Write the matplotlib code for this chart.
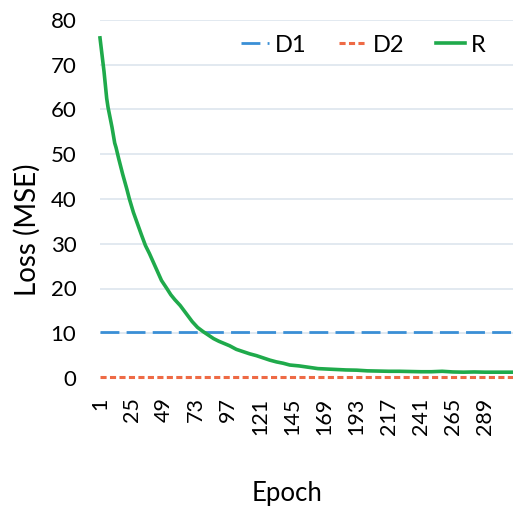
import matplotlib.pyplot as plt

r_epoch = [1, 2, 3, 4, 5, 6, 7, 8, 10, 12, 13, 15, 18, 21, 23, 26, 29, 32, 35, 38, 41, 44, 47,
           51, 54, 57, 61, 64, 67, 70, 74, 78, 82, 86, 90, 94, 98, 103, 108, 113, 118,
           123, 128, 133, 138, 143, 150, 157, 164, 171, 178, 185, 193, 201, 209, 217,
           225, 233, 241, 249, 257, 265, 273, 281, 289, 297, 305, 310]
r_loss = [76, 73.5, 71, 68.5, 65.5, 62.5, 60.5, 59, 56, 52.5, 51.5, 49, 45.5, 42.3, 40, 37, 34.5, 32, 29.6, 27.8, 25.8, 23.8, 21.8,
          20, 18.6, 17.5, 16.2, 15, 13.8, 12.6, 11.3, 10.4, 9.6, 8.8, 8.2, 7.7, 7.2, 6.4, 5.9, 5.4, 5.0,
          4.5, 4.0, 3.6, 3.3, 2.9, 2.7, 2.4, 2.1, 2.0, 1.9, 1.8, 1.75, 1.6, 1.55, 1.5,
          1.5, 1.45, 1.4, 1.4, 1.5, 1.35, 1.3, 1.35, 1.3, 1.3, 1.3, 1.3]
d1_loss = 10.3
d2_loss = 0.3
epoch_span = [1, 310]
xtick_labels = [1, 25, 49, 73, 97, 121, 145, 169, 193, 217, 241, 265, 289]

plt.rcParams['font.family'] = ['Lato', 'DejaVu Sans']

fig = plt.figure(figsize=(5.13, 5.12), dpi=100)
ax = fig.add_axes([100 / 513, 1 - 378 / 512, 1 - 100 / 513, 358 / 512])

for v in range(10, 81, 10):
    ax.axhline(v, color='#dde5ee', lw=1.2, zorder=0)

ax.plot(epoch_span, [d1_loss, d1_loss], color='#3a8fd6', lw=2, dashes=(6.8, 2.6), label='D1', clip_on=False)
ax.plot(epoch_span, [d2_loss, d2_loss], color='#ee6a45', lw=2.2, dashes=(2.0, 1.1), label='D2', clip_on=False)
ax.plot(r_epoch, r_loss, color='#1faa4b', lw=2.6, label='R', clip_on=False)

ax.set_xlim(1, 310)
ax.set_ylim(0, 80)
ax.set_yticks(range(0, 81, 10))
ax.set_xticks(xtick_labels)
ax.set_xticklabels([str(t) for t in xtick_labels], rotation=90)
ax.tick_params(axis='y', length=0, pad=17, labelsize=16)
ax.tick_params(axis='x', length=0, pad=14, labelsize=15.5)
for s in ax.spines.values():
    s.set_visible(False)

fig.text(287 / 513, 1 - 493 / 512, 'Epoch', ha='center', va='center', fontsize=18.5)
fig.text(27 / 513, 1 - 230 / 512, 'Loss (MSE)', ha='center', va='center', rotation=90, fontsize=20)

ax.legend(loc='center', bbox_to_anchor=(0.637, 0.93), ncol=3, frameon=False, fontsize=17,
          handlelength=1.2, columnspacing=1.35, handletextpad=0.25)

fig.savefig('out.png', dpi=100)
